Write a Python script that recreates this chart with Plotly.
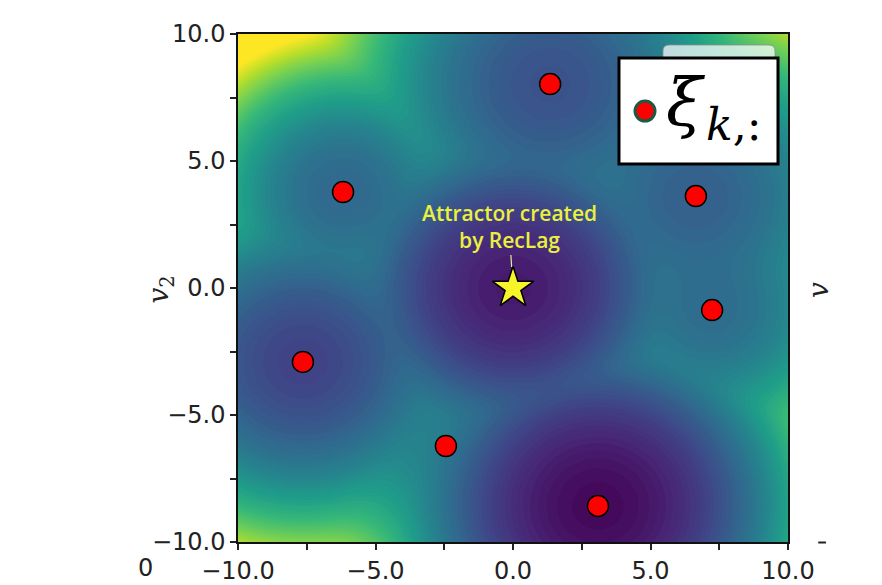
import numpy as np
import plotly.graph_objects as go

# ---- data ----
xi_x = [1.35, -6.18, 6.65, 7.24, -7.64, -2.44, 3.09]
xi_y = [8.03, 3.78, 3.62, -0.87, -2.91, -6.22, -8.58]
# landscape floor level (0..1 on viridis) and bowl curvature at each centre
xi_floor = [0.25, 0.33, 0.30, 0.35, 0.20, 0.45, 0.02]
xi_curv = [0.010, 0.017, 0.011, 0.015, 0.012, 0.014, 0.0115]
attractor_x = [0.0]
attractor_y = [0.0]
attractor_floor = [0.07]
attractor_curv = [0.0125]
tick_vals = [-10, -5, 0, 5, 10]
tick_text = ["\u221210.0", "\u22125.0", "0.0", "5.0", "10.0"]

# ---- landscape built from the wells ----
grid = np.linspace(-10, 10, 241)
GX, GY = np.meshgrid(grid, grid)
cx = np.array(xi_x + attractor_x)
cy = np.array(xi_y + attractor_y)
cf = np.array(xi_floor + attractor_floor)
cc = np.array(xi_curv + attractor_curv)
T = 0.06
E = np.stack([cf[k] + cc[k] * ((GX - cx[k]) ** 2 + (GY - cy[k]) ** 2) for k in range(len(cx))])
m = E.min(axis=0)
Z = m - T * np.log(np.exp(-(E - m) / T).sum(axis=0))
Z = np.clip(Z, 0, 1)

fig = go.Figure()
fig.add_trace(go.Contour(
    x=grid, y=grid, z=Z, colorscale="Viridis", zmin=0, zmax=1,
    contours=dict(start=0, end=1, size=0.015, coloring="fill"),
    line=dict(width=0), showscale=False, hoverinfo="skip"))

fig.add_trace(go.Scatter(
    x=xi_x, y=xi_y, mode="markers",
    marker=dict(size=21, color="#ff0000", line=dict(color="black", width=1.5)),
    showlegend=False))

fig.add_trace(go.Scatter(
    x=attractor_x, y=attractor_y, mode="markers",
    marker=dict(symbol="star", size=31, color="#f7f52a", line=dict(color="black", width=1.5)),
    showlegend=False))

fig.add_annotation(
    x=attractor_x[0], y=attractor_y[0], xref="x", yref="y",
    text="Attractor created<br>by RecLag", showarrow=True, arrowhead=0,
    arrowwidth=1.2, arrowcolor="#e6ee9a", ax=-4, ay=-62, standoff=21,
    font=dict(family="Open Sans", size=21, color="#e9f03e", weight=600))

# legend: background rounded box + white box with marker and label
def rr(x0, y0, x1, y1, r):
    rx = r / 550
    ry = r / 508
    return (f"M {x0+rx},{y0} L {x1-rx},{y0} Q {x1},{y0} {x1},{y0+ry} "
            f"L {x1},{y1-ry} Q {x1},{y1} {x1-rx},{y1} L {x0+rx},{y1} "
            f"Q {x0},{y1} {x0},{y1-ry} L {x0},{y0+ry} Q {x0},{y0} {x0+rx},{y0} Z")

fig.add_shape(type="path", xref="paper", yref="paper",
              path=rr(0.7727, 0.80, 0.9764, 0.9783, 6),
              fillcolor="rgba(255,255,255,0.72)", line=dict(color="rgba(140,140,140,0.8)", width=1),
              layer="above")
fig.add_shape(type="rect", xref="paper", yref="paper",
              x0=0.6927, x1=0.9818, y0=0.7441, y1=0.9528,
              fillcolor="white", line=dict(color="black", width=3), layer="above")
fig.add_shape(type="circle", xref="paper", yref="paper",
              x0=0.7218, x1=0.7582, y0=0.8287, y1=0.8681,
              fillcolor="#ff0000", line=dict(color="#1b5a45", width=3), layer="above")
fig.add_annotation(xref="paper", yref="paper", x=0.8145, y=0.865,
                   xanchor="center", yanchor="middle",
                   text="<i>\u03be</i>", showarrow=False,
                   font=dict(family="DejaVu Serif", size=66, color="black"))
fig.add_annotation(xref="paper", yref="paper", x=0.900, y=0.822,
                   xanchor="center", yanchor="middle",
                   text="<i>k</i>,:", showarrow=False,
                   font=dict(family="DejaVu Serif", size=44, color="black"))

# y-axis title
fig.add_annotation(xref="paper", yref="paper", x=-0.14, y=0.497,
                   xanchor="center", yanchor="middle",
                   text="<i>v</i><sub>2</sub>", showarrow=False, textangle=-90,
                   font=dict(family="DejaVu Serif", size=28, color="#222222"))

# fragments of neighbouring panels
fig.add_annotation(xref="paper", yref="paper", x=-0.169, y=-0.051,
                   xanchor="center", yanchor="middle",
                   text="0", showarrow=False,
                   font=dict(family="DejaVu Sans", size=24, color="#222222"))
fig.add_annotation(xref="paper", yref="paper", x=1.0545, y=0.496,
                   xanchor="center", yanchor="middle",
                   text="<i>v</i>", showarrow=False, textangle=-90,
                   font=dict(family="DejaVu Serif", size=28, color="#222222"))
fig.add_shape(type="line", xref="paper", yref="paper",
              x0=1.055, x1=1.069, y0=-0.001, y1=-0.001,
              line=dict(color="#222222", width=2))

axis_common = dict(
    range=[-10, 10], tickvals=tick_vals, ticktext=tick_text,
    ticks="outside", ticklen=6, tickwidth=1.5, tickcolor="#222222",
    minor=dict(dtick=2.5, tick0=0, ticks="outside", ticklen=6, tickwidth=1.5, tickcolor="#222222"),
    showline=True, linecolor="#111111", linewidth=1.5, mirror=True,
    showgrid=False, zeroline=False,
    tickfont=dict(family="DejaVu Sans", size=24, color="#222222"))

fig.update_xaxes(**axis_common)
fig.update_yaxes(**axis_common)

# the page adds an 8 px body margin, so the figure is offset by (8, 8)
fig.update_layout(
    width=882, height=585,
    margin=dict(l=230, r=102, t=26, b=51, autoexpand=False),
    paper_bgcolor="white", plot_bgcolor="white",
    showlegend=False)

fig.write_html("out.html")
